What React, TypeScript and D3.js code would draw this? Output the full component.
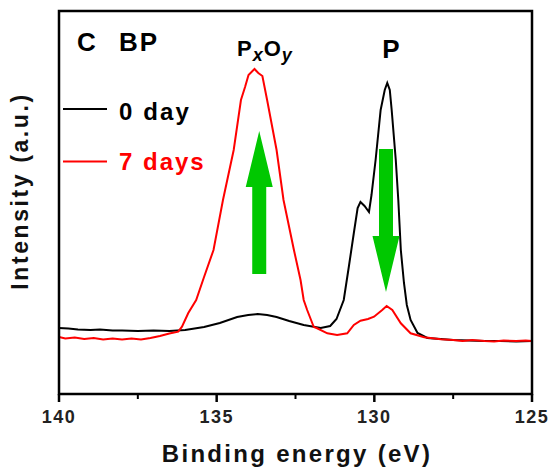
import React from "react";
import * as d3 from "d3";

// XPS P 2p spectra of black phosphorus (eV, a.u.)
const day0: [number, number][] = [
  [140.0, 66], [139.7, 65.5], [139.4, 64.5], [139.0, 64], [138.7, 64.5],
  [138.3, 63.5], [138.0, 63.5], [137.5, 63], [137.0, 63.5], [136.5, 63],
  [136.0, 64], [135.7, 65.5], [135.4, 67], [134.9, 71], [134.35, 77],
  [134.0, 79], [133.7, 80], [133.4, 79], [133.1, 77], [132.7, 73],
  [132.24, 69], [131.7, 66], [131.4, 68], [131.2, 75], [130.97, 94],
  [130.81, 127], [130.65, 161], [130.53, 186], [130.44, 192], [130.31, 188],
  [130.17, 182], [130.09, 199], [129.96, 234], [129.8, 284], [129.67, 304],
  [129.59, 311], [129.51, 304], [129.45, 284], [129.32, 234], [129.24, 194],
  [129.16, 144], [129.06, 111], [128.97, 89], [128.85, 74], [128.63, 61],
  [128.32, 56], [127.9, 55], [127.5, 54], [127.0, 53.5], [126.5, 53],
  [126.0, 53], [125.5, 52.5], [125.0, 53],
];

const day7: [number, number][] = [
  [140.0, 57], [139.8, 55.5], [139.5, 56.5], [139.2, 55], [138.9, 56],
  [138.6, 54.5], [138.3, 55.5], [138.0, 54.5], [137.7, 55.5], [137.4, 54.5],
  [137.1, 56], [136.8, 58], [136.5, 60.5], [136.22, 62.3], [136.1, 67.3],
  [135.9, 81], [135.65, 94], [135.4, 117], [135.1, 144], [134.8, 194],
  [134.46, 244], [134.23, 294], [134.1, 307], [133.99, 319], [133.8, 325],
  [133.68, 321], [133.55, 318], [133.4, 294], [133.1, 244], [132.88, 194],
  [132.55, 144], [132.34, 114], [132.24, 94], [132.13, 84], [131.92, 67],
  [131.83, 66], [131.49, 60.7], [131.18, 59], [130.86, 60.7], [130.65, 69],
  [130.44, 73.3], [130.2, 75], [130.01, 77.3], [129.75, 84], [129.61, 88],
  [129.43, 84], [129.16, 70.7], [128.85, 60.7], [128.42, 56.7], [127.89, 54.7],
  [127.5, 54], [127.2, 53], [126.9, 54], [126.5, 53], [126.2, 52.5],
  [125.9, 53.5], [125.5, 53], [125.2, 53.5], [125.0, 53],
];

const majorTicks = [140, 135, 130, 125];
const minorTicks = [137.5, 132.5, 127.5];

// arrows: [energy, tail intensity, tip intensity, head base intensity]
const upArrow = [133.65, 120, 263, 207];
const downArrow = [129.63, 245, 102, 158];

const W = 550;
const H = 470;
const margin = { top: 11, right: 18, bottom: 76, left: 59 };
const font = "'Liberation Sans', Arial, Helvetica, sans-serif";
const green = "#00c800";

const x = d3.scaleLinear().domain([140, 125]).range([margin.left, W - margin.right]);
const y = d3.scaleLinear().domain([0, 383]).range([H - margin.bottom, margin.top]);

const line = d3
  .line<[number, number]>()
  .x((d) => x(d[0]))
  .y((d) => y(d[1]));

function arrowPath(a: number[]) {
  const [e, from, to, headBase] = a;
  const cx = x(e);
  const sw = 7;
  const hw = 13.5;
  const y0 = y(from);
  const yb = y(headBase);
  const yt = y(to);
  return `M${cx - sw},${y0}L${cx - sw},${yb}L${cx - hw},${yb}L${cx},${yt}L${cx + hw},${yb}L${cx + sw},${yb}L${cx + sw},${y0}Z`;
}

export default function App() {
  const bottom = H - margin.bottom;
  return (
    <svg
      width={W}
      height={H}
      style={{ position: "absolute", left: 0, top: 0, background: "#fff" }}
      fontFamily={font}
      fontWeight="bold"
    >
      <path d={line(day0) ?? ""} fill="none" stroke="#000" strokeWidth={2} />
      <path d={line(day7) ?? ""} fill="none" stroke="#ff0000" strokeWidth={2} />

      <path d={arrowPath(upArrow)} fill={green} />
      <path d={arrowPath(downArrow)} fill={green} />

      <rect
        x={margin.left}
        y={margin.top}
        width={W - margin.left - margin.right}
        height={bottom - margin.top}
        fill="none"
        stroke="#000"
        strokeWidth={2.5}
      />

      {majorTicks.map((t) => (
        <g key={t}>
          <line x1={x(t)} x2={x(t)} y1={bottom} y2={bottom + 8} stroke="#000" strokeWidth={2.5} />
          <text x={x(t)} y={423} textAnchor="middle" fontSize={18} letterSpacing={1.5} fill="#222">
            {t}
          </text>
        </g>
      ))}
      {minorTicks.map((t) => (
        <line key={t} x1={x(t)} x2={x(t)} y1={bottom} y2={bottom + 5} stroke="#000" strokeWidth={2} />
      ))}

      <text x={297} y={462} textAnchor="middle" fontSize={24} letterSpacing={2.3} fill="#111">
        Binding energy (eV)
      </text>
      <text
        transform={`translate(28,191) rotate(-90)`}
        textAnchor="middle"
        fontSize={23}
        letterSpacing={2.6}
        fill="#111"
      >
        Intensity (a.u.)
      </text>

      <text x={77} y={50.5} fontSize={26} letterSpacing={1} fill="#000">C</text>
      <text x={119} y={50.5} fontSize={26} letterSpacing={2} fill="#000">BP</text>

      <line x1={63} x2={107} y1={109} y2={109} stroke="#000" strokeWidth={2} />
      <text x={119} y={120} fontSize={24} letterSpacing={2.1} fill="#000">0 day</text>
      <line x1={63} x2={107} y1={161.5} y2={161.5} stroke="#ff0000" strokeWidth={2} />
      <text x={119} y={170} fontSize={24} letterSpacing={2} fill="#ff0000">7 days</text>

      <text x={237} y={56} fontSize={22} letterSpacing={1} fill="#000">
        P
        <tspan fontSize={18} fontStyle="italic" dy={5}>x</tspan>
        <tspan dy={-5}>O</tspan>
        <tspan fontSize={18} fontStyle="italic" dy={5}>y</tspan>
      </text>
      <text x={391} y={57.5} textAnchor="middle" fontSize={26} fill="#000">P</text>
    </svg>
  );
}
